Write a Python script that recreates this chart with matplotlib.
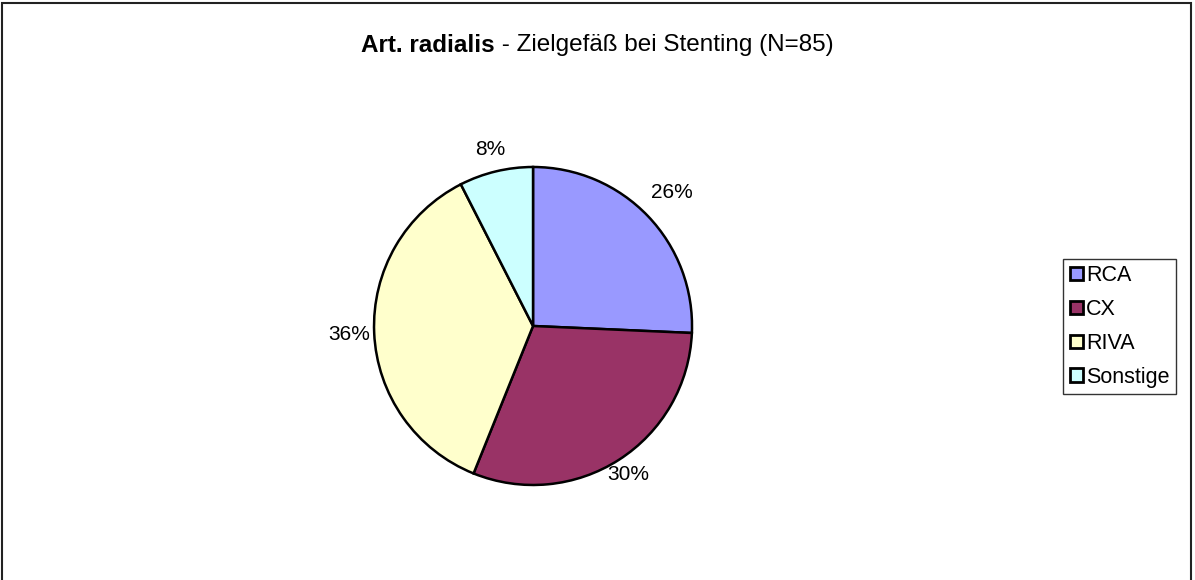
import numpy as np
import matplotlib.pyplot as plt
from matplotlib.patches import Rectangle

plt.rcParams['font.family'] = ['Liberation Sans', 'DejaVu Sans']

labels = ['RCA', 'CX', 'RIVA', 'Sonstige']
values = [25.7, 30.4, 36.4, 7.5]
shown_pct = ['26%', '30%', '36%', '8%']
colors = ['#9999FF', '#993366', '#FFFFCC', '#CCFFFF']

fig = plt.figure(figsize=(11.95, 5.8), dpi=100)

# outer chart frame
fig.patches.append(Rectangle((0.002, -0.01), 0.995, 1.005, transform=fig.transFigure,
                             fill=False, edgecolor='#222222', linewidth=1.5))

# title: bold part + normal part, centred together
ty = 0.922
t1 = fig.text(0, ty, 'Art. radialis', ha='left', va='center',
              fontsize=17.5, fontweight='bold')
t2 = fig.text(0, ty, ' - Zielgefäß bei Stenting (N=85)', ha='left', va='center',
              fontsize=17.5)
fig.canvas.draw()
w1 = t1.get_window_extent().width / fig.bbox.width
w2 = t2.get_window_extent().width / fig.bbox.width
x0 = 0.5 - (w1 + w2) / 2
t1.set_x(x0)
t2.set_x(x0 + w1)

ax = fig.add_axes([0.313, 0.1638, 0.2661, 0.5483])
wedges, _ = ax.pie(values, colors=colors, startangle=90, counterclock=False,
                   wedgeprops=dict(edgecolor='black', linewidth=1.8))
ax.set_xlim(-1, 1)
ax.set_ylim(-1, 1)

ang = 90.0
dist = [1.21, 1.11, 1.16, 1.14]
for v, s, d in zip(values, shown_pct, dist):
    mid = np.deg2rad(ang - v * 3.6 / 2)
    ax.text(d * np.cos(mid), d * np.sin(mid), s, ha='center', va='center', fontsize=15)
    ang -= v * 3.6

leg = fig.legend(wedges, labels, loc='center left', bbox_to_anchor=(0.8897, 0.437),
                 fontsize=15.5, frameon=True, fancybox=False, edgecolor='black',
                 handlelength=0.6, handleheight=0.6, handletextpad=0.15,
                 labelspacing=0.6, borderpad=0.3, borderaxespad=0)
leg.get_frame().set_linewidth(1.0)
for h in leg.legend_handles:
    h.set_linewidth(2.0)

fig.savefig('out.png', dpi=100)
